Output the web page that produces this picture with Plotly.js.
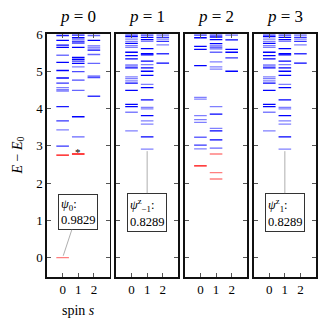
<!DOCTYPE html>
<html>
<head>
<meta charset="utf-8">
<script src="https://cdn.plot.ly/plotly-3.0.1.min.js"></script>
<style>
  html, body { margin: 0; padding: 0; background: #fff; }
  #chart { width: 330px; height: 330px; }
</style>
</head>
<body>
<div id="chart"></div>
<script>
// spin sectors on the x axis
const spins = [0, 1, 2];
const panelTitles = ['<i>p</i> = 0', '<i>p</i> = 1', '<i>p</i> = 2', '<i>p</i> = 3'];

// p = 0 levels, one list per spin
const p0Blue = [
  [5.96, 5.83, 5.70, 5.64, 5.43, 5.24, 5.02, 4.82, 4.68, 4.56, 4.51, 4.47, 4.05, 3.67, 3.43, 2.99],
  [5.97, 5.90, 5.84, 5.79, 5.75, 5.64, 5.37, 5.32, 5.27, 5.21, 5.12, 4.99, 4.76, 4.49, 3.78, 3.24],
  [5.96, 5.83, 5.68, 5.63, 5.57, 5.45, 5.21, 4.87, 4.83, 4.33]
];
const p0BlueAlpha = [
  [0.9, 1, 1, 1, 0.55, 1, 1, 1, 0.8, 0.5, 0.5, 0.5, 0.9, 0.8, 0.5, 0.8],
  [0.9, 1, 0.6, 1, 0.6, 1, 1, 1, 0.8, 1, 0.5, 0.7, 0.7, 0.6, 1, 0.6],
  [0.6, 1, 0.6, 0.6, 1, 0.6, 0.6, 0.7, 0.7, 0.8]
];
const p0Red = [[2.75, 0.0], [2.78], []];
const p0RedAlpha = [[1, 0.5], [1], []];

// p = 1 levels
const p1Blue = [
  [5.97, 5.93, 5.86, 5.80, 5.75, 5.69, 5.64, 5.51, 5.42, 5.33, 5.17, 5.14, 5.09, 4.85, 4.80, 4.74, 4.68, 4.49, 4.11, 4.05, 3.90, 3.40],
  [5.97, 5.91, 5.85, 5.80, 5.61, 5.47, 5.44, 5.27, 5.18, 5.09, 5.00, 4.89, 4.65, 4.56, 4.23, 4.03, 3.99, 3.81, 3.67, 3.58, 3.24, 2.91],
  [5.97, 5.91, 5.86, 5.80, 5.71, 5.47, 5.22]
];
const p1BlueAlpha = [
  [0.8, 1, 0.5, 0.5, 1, 0.5, 0.5, 1, 1, 1, 0.5, 0.5, 1, 0.5, 0.5, 0.5, 1, 1, 1, 1, 0.5, 0.5],
  [0.8, 1, 1, 0.5, 1, 1, 1, 1, 0.5, 1, 1, 1, 0.5, 1, 1, 0.5, 0.5, 1, 0.5, 0.5, 1, 0.5],
  [0.6, 0.8, 0.5, 0.8, 0.5, 0.8, 1]
];

// p = 2 levels
const p2Blue = [
  [5.97, 5.90, 5.67, 5.59, 5.15, 4.30, 4.25, 3.81, 3.70, 3.63, 3.23, 3.02, 2.92],
  [5.97, 5.92, 5.85, 5.74, 5.68, 5.64, 5.60, 5.51, 5.25, 5.12, 5.06, 4.05, 3.85, 3.47, 3.40, 3.16, 2.94],
  [5.97, 5.84, 5.59, 5.51, 5.36, 5.00]
];
const p2BlueAlpha = [
  [0.8, 1, 1, 1, 1, 0.5, 0.5, 0.5, 0.5, 0.5, 0.6, 0.8, 0.5],
  [0.8, 1, 1, 1, 0.6, 0.6, 0.6, 0.6, 0.5, 0.5, 0.5, 0.5, 1, 0.5, 1, 1, 0.6],
  [0.6, 1, 1, 1, 0.8, 1]
];
const p2Red = [[2.46], [2.78, 2.28, 2.11], []];
const p2RedAlpha = [[1], [0.5, 0.5, 0.5], []];

// p = 3 spectrum is the same as p = 1
const p3Blue = p1Blue;
const p3BlueAlpha = p1BlueAlpha;

// overlap labels: panel, spin, energy, text
const labelPanels = [0, 1, 3];
const labelSpins = [0, 1, 1];
const labelLevels = [0.0, 2.91, 2.91];
const labelNames = ['<i>ψ</i><sub>0</sub>:', '<i>ψ</i><sup>z</sup><sub>−1</sub>:', '<i>ψ</i><sup>z</sup><sub>1</sub>:'];
const labelValues = ['0.9829', '0.8289', '0.8289'];

const BLUE = '0,0,255';
const RED = '255,0,0';

function levelTrace(levels, alphas, rgb, panel) {
  const x = [], y = [], colors = [];
  levels.forEach((list, k) => {
    list.forEach((e, j) => {
      x.push(spins[k]);
      y.push(e);
      colors.push(`rgba(${rgb},${alphas[k][j]})`);
    });
  });
  const suffix = panel === 0 ? '' : String(panel + 1);
  return {
    x, y,
    xaxis: 'x' + suffix,
    yaxis: 'y' + suffix,
    type: 'scatter',
    mode: 'markers',
    marker: { symbol: 'line-ew', size: 9, line: { width: 1.3, color: colors } },
    hoverinfo: 'skip',
    showlegend: false
  };
}

const traces = [
  levelTrace(p0Blue, p0BlueAlpha, BLUE, 0),
  levelTrace(p0Red, p0RedAlpha, RED, 0),
  levelTrace(p1Blue, p1BlueAlpha, BLUE, 1),
  levelTrace(p2Blue, p2BlueAlpha, BLUE, 2),
  levelTrace(p2Red, p2RedAlpha, RED, 2),
  levelTrace(p3Blue, p3BlueAlpha, BLUE, 3)
];

const FONT = 'Liberation Serif, DejaVu Serif, serif';
const plotW = 269;
const step = 68.9;
const panelW = 62.5;

const layout = {
  width: 330,
  height: 330,
  margin: { l: 47, r: 14, t: 34, b: 53 },
  paper_bgcolor: '#fff',
  plot_bgcolor: '#fff',
  font: { family: FONT, size: 13, color: '#000' },
  showlegend: false,
  annotations: []
};

for (let i = 0; i < 4; i++) {
  const suffix = i === 0 ? '' : String(i + 1);
  const x0 = i * step / plotW;
  const x1 = (i * step + panelW) / plotW;
  layout['xaxis' + suffix] = {
    domain: [x0, x1],
    anchor: 'y' + suffix,
    range: [-1, 3],
    tickvals: spins,
    ticktext: spins.map(String),
    ticks: 'inside',
    ticklen: 4,
    tickcolor: '#555',
    mirror: 'ticks',
    showline: true,
    linecolor: '#111',
    linewidth: 1.6,
    showgrid: false,
    zeroline: false,
    tickfont: { family: FONT, size: 13 }
  };
  layout['yaxis' + suffix] = {
    domain: [0, 1],
    anchor: 'x' + suffix,
    range: [-0.52, 6.0],
    dtick: 1,
    tick0: 0,
    ticks: 'inside',
    ticklen: 4,
    tickcolor: '#555',
    mirror: 'ticks',
    showline: true,
    linecolor: '#111',
    linewidth: 1.6,
    showgrid: false,
    zeroline: false,
    showticklabels: i === 0,
    tickfont: { family: FONT, size: 13 }
  };
  layout.annotations.push({
    xref: 'paper', yref: 'paper',
    x: (x0 + x1) / 2, y: 1.07,
    xanchor: 'center', yanchor: 'middle',
    text: panelTitles[i],
    showarrow: false,
    font: { family: FONT, size: 17 }
  });
}

// overlap boxes with leader lines
labelPanels.forEach((panel, k) => {
  const suffix = panel === 0 ? '' : String(panel + 1);
  layout.annotations.push({
    xref: 'x' + suffix, yref: 'y' + suffix,
    x: labelSpins[k], y: labelLevels[k],
    axref: 'x' + suffix, ayref: 'y' + suffix,
    ax: panel === 0 ? 0.96 : labelSpins[k], ay: 1.22,
    text: labelNames[k] + '<br>' + labelValues[k],
    align: 'left',
    showarrow: true,
    arrowhead: 0,
    arrowwidth: 0.8,
    arrowcolor: '#999',
    standoff: 2,
    bgcolor: '#fff',
    bordercolor: '#333',
    borderwidth: 1,
    borderpad: 2,
    font: { family: FONT, size: 12.5 }
  });
});

// asterisk over the marked p = 0, s = 1 level
layout.annotations.push({
  xref: 'x', yref: 'y',
  x: spins[1], y: p0Red[1][0],
  yshift: 2,
  text: '*',
  showarrow: false,
  font: { family: FONT, size: 11 }
});

// axis titles
layout.annotations.push({
  xref: 'paper', yref: 'paper',
  x: -29 / plotW, y: 0.5,
  xanchor: 'center', yanchor: 'middle',
  textangle: -90,
  text: '<i>E</i> − <i>E</i><sub>0</sub>',
  showarrow: false,
  font: { family: FONT, size: 14 }
});
layout.annotations.push({
  xref: 'paper', yref: 'paper',
  x: (panelW / 2) / plotW, y: -33 / 243,
  xanchor: 'center', yanchor: 'middle',
  text: 'spin <i>s</i>',
  showarrow: false,
  font: { family: FONT, size: 14 }
});

Plotly.newPlot('chart', traces, layout, { displayModeBar: false, staticPlot: true });
</script>
</body>
</html>
